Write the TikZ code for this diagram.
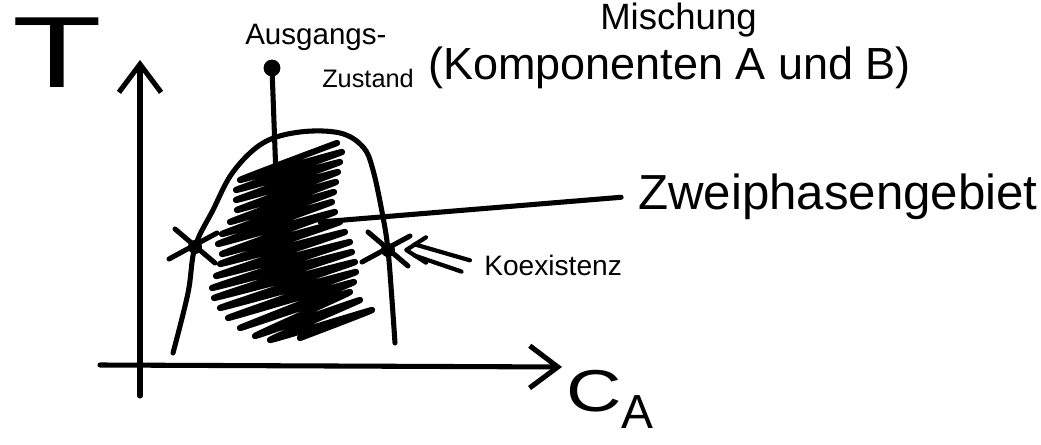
\documentclass[tikz,border=0pt]{standalone}
\usepackage{fontspec}
\setmainfont{Liberation Sans}
\usetikzlibrary{arrows.meta}
\tikzset{stroke/.style={
        draw=black,
        line width=3.6pt,
        line cap=round,
        line join=round},
        %
        hatch/.style={
            stroke,
            line width=4.4pt},
        axis/.style={
            stroke,
            -{Straight Barb[length=20pt,width=30pt]}},
        thinstroke/.style={
            stroke,
            line width=3pt},
        txt/.style={
            font=\fontsize{#1}{#1}\selectfont,
            inner sep=0pt,
            anchor=base west}
        }
\def\armlen{20}

\begin{document}
\begin{tikzpicture}[x=0.025cm, y=-0.025cm]
\path[use as bounding box, clip] (0,0) rectangle (1041,445);
\fill[white] (0,0) rectangle (1041,445);

% axes
\coordinate (yfoot) at (140,396);
\coordinate (ytip) at (140,60);
\coordinate (xfoot) at (100,365);
\coordinate (xtip) at (562,367);
\draw[axis] (yfoot) -- (ytip);
\draw[axis] (xfoot) -- (xtip);
\node[txt=72] (tlabel) at (12,88) {\scalebox{1.45}[1]{T}};
\node[txt=42] (calabel) at (566,412) {\scalebox{1.3}[1]{C}\raisebox{-12pt}{\fontsize{34}{34}\selectfont A}};

% two-phase dome
\coordinate (starL) at (195,247);
\coordinate (starR) at (388,250);
\draw[stroke] plot[smooth, tension=0.6] coordinates {(173,353) (188,293) (starL) (213,210) (233,172)
    (263,143) (300,132) (340,133) (363,147) (373,170) (383,217) (starR) (392,300) (395,343)};
\draw[hatch] plot[smooth, tension=0.3] coordinates {(337,143) (240,180) (342,152) (236,190)
    (340,162) (236,200) (338,172) (237,210) (336,182) (230,222) (334,192) (222,234)
    (332,202) (218,244) (335,212) (222,254) (340,222) (220,264) (345,232) (216,276)
    (350,242) (212,288) (352,252) (214,298) (355,262) (220,308) (356,272) (228,318)
    (354,282) (240,328) (350,292) (255,336) (360,300) (270,340) (372,310) (300,338)};

% coexistence points
\foreach \s in {starL,starR}{
    \fill (\s) circle (5pt);
    \draw[stroke] ([shift={(-\armlen,-18)}]\s) -- ([shift={(\armlen,16)}]\s);
    \draw[stroke] ([shift={(22,-14)}]\s) -- ([shift={(-26,12)}]\s);
}

% initial state
\node[circle, fill=black, inner sep=0pt, minimum size=12pt] (start) at (272,68) {};
\coordinate (startend) at (279,257);
\draw[stroke] (start) -- (startend);

% labels
\node[txt=26] (mischung) at (600,30) {Mischung};
\node[txt=32] (komponenten) at (428,80) {(Komponenten A und B)};
\node[txt=21] (ausgang) at (245,45) {Ausgangs-};
\node[txt=18] (zustand) at (322,88) {Zustand};
\node[txt=35] (zweiphasen) at (638,210) {Zweiphasengebiet};
\node[txt=20] (koex) at (484,276) {Koexistenz};

\coordinate (phase) at (320,222);
\draw[stroke] (phase) -- ([xshift=-12pt]zweiphasen.west);

% coexistence arrow
\coordinate (koextip) at ([xshift=13pt]starR);
\draw[thinstroke] ([shift={(-10pt,4pt)}]koex.west) -- ([shift={(6pt,4pt)}]koextip);
\draw[thinstroke] ([shift={(-16pt,-4pt)}]koex.west) -- ([shift={(6pt,-4pt)}]koextip);
\draw[thinstroke] ([shift={(14pt,9pt)}]koextip) -- (koextip) -- ([shift={(14pt,-9pt)}]koextip);
\end{tikzpicture}
\end{document}
